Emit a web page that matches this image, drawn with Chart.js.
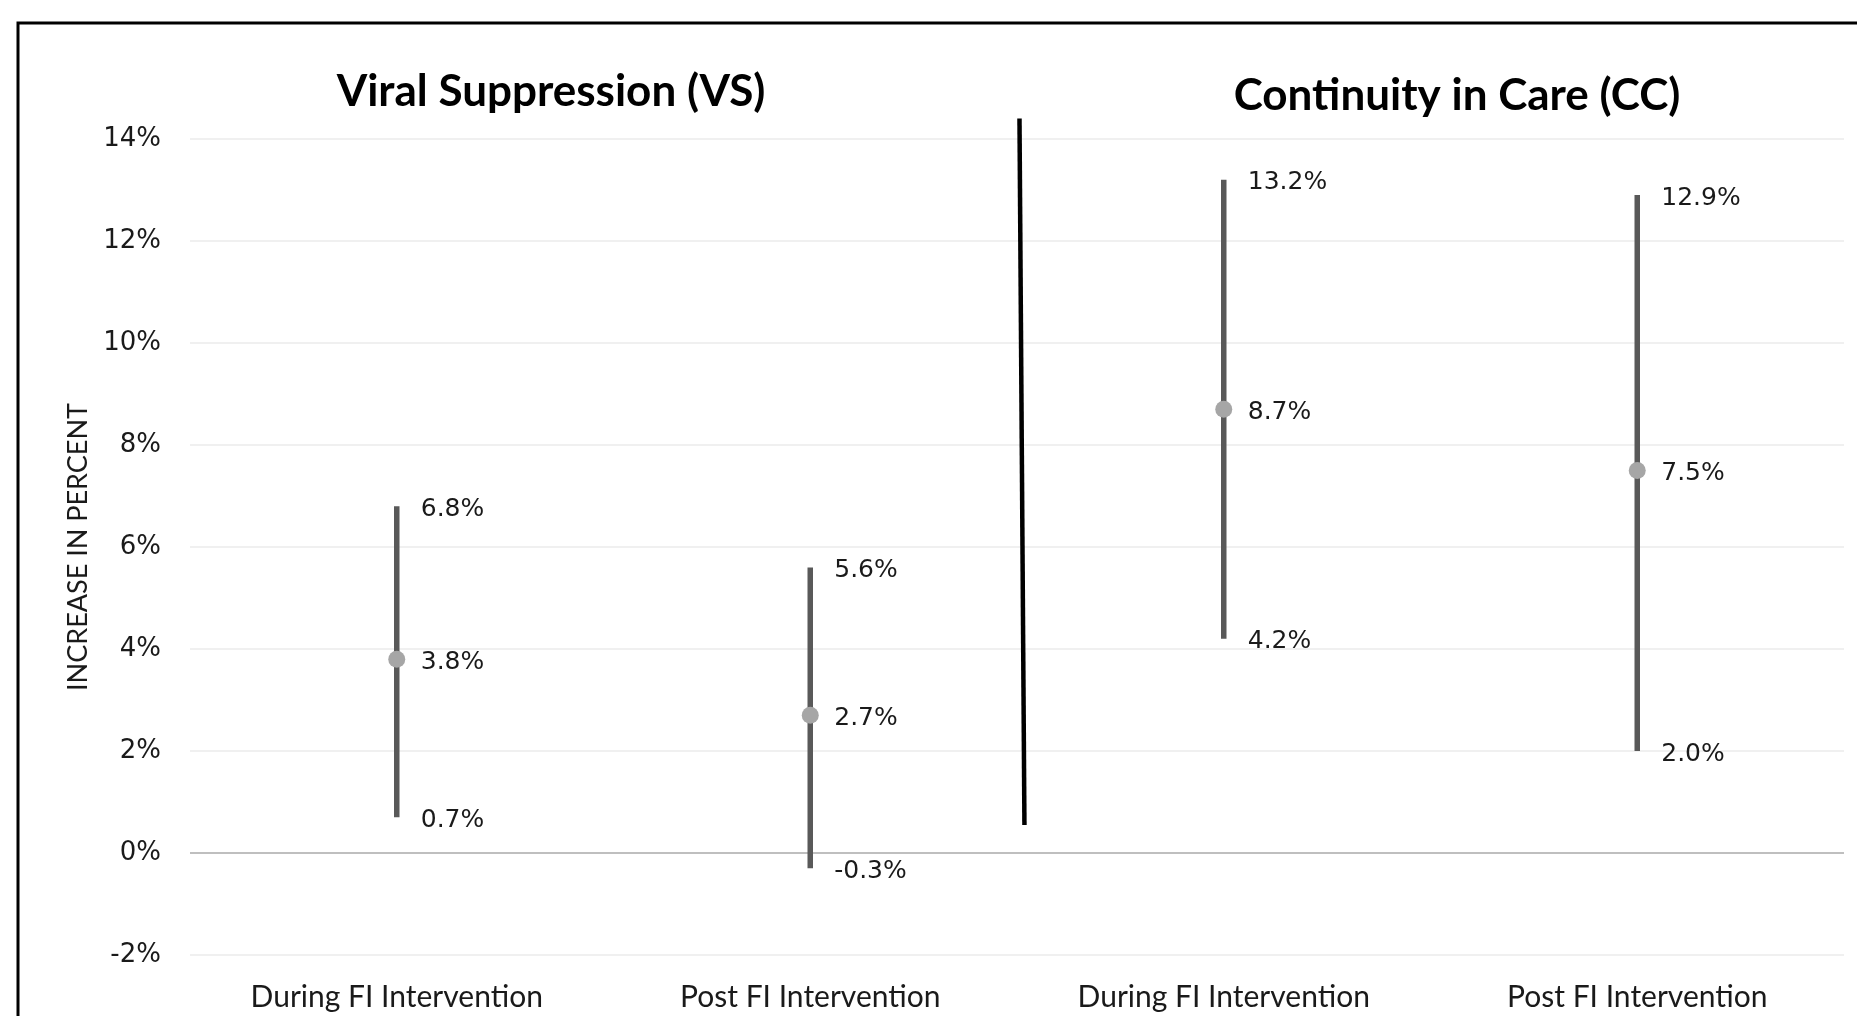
<!DOCTYPE html>
<html>
<head>
<meta charset="utf-8">
<script src="https://cdn.jsdelivr.net/npm/chart.js@4/dist/chart.umd.min.js"></script>
<style>
  html, body { margin: 0; padding: 0; background: #ffffff; }
  #wrap { width: 1857px; height: 1016px; position: relative; }
</style>
</head>
<body>
<div id="wrap"><canvas id="c" width="1857" height="1016"></canvas></div>
<script>
// ---- data ----
const categories = ['During FI Intervention', 'Post FI Intervention', 'During FI Intervention', 'Post FI Intervention'];
const estimate = [3.8, 2.7, 8.7, 7.5];
const lowerCI  = [0.7, -0.3, 4.2, 2.0];
const upperCI  = [6.8, 5.6, 13.2, 12.9];
const yTicks = [-2, 0, 2, 4, 6, 8, 10, 12, 14];
const panelTitles = ['Viral Suppression (VS)', 'Continuity in Care (CC)'];
const yAxisTitle = 'INCREASE IN PERCENT';
const dividerLine = [{x: 1.506, y: 14.4}, {x: 1.518, y: 0.55}];

const fmt = v => v.toFixed(1) + '%';

// build datasets
const datasets = [];
datasets.push({
  type: 'scatter',
  label: 'Estimate',
  data: estimate.map((v, i) => ({x: i, y: v})),
  pointRadius: 8.5,
  pointHoverRadius: 8.5,
  pointBackgroundColor: '#A6A6A6',
  pointBorderWidth: 0,
  showLine: false,
  order: 0
});
categories.forEach((c, i) => {
  datasets.push({
    type: 'line',
    label: 'CI ' + i,
    data: [{x: i, y: lowerCI[i]}, {x: i, y: upperCI[i]}],
    borderColor: '#595959',
    borderWidth: 5.5,
    borderCapStyle: 'butt',
    pointRadius: 0,
    fill: false,
    order: 1
  });
});
datasets.push({
  type: 'line',
  label: 'divider',
  data: dividerLine,
  borderColor: '#000000',
  borderWidth: 4.5,
  borderCapStyle: 'butt',
  pointRadius: 0,
  fill: false,
  clip: false,
  order: 2
});

const framePlugin = {
  id: 'frame',
  beforeDraw(chart) {
    const ctx = chart.ctx;
    ctx.save();
    ctx.fillStyle = '#ffffff';
    ctx.fillRect(0, 0, chart.width, chart.height);
    ctx.strokeStyle = '#000000';
    ctx.lineWidth = 3;
    ctx.strokeRect(18, 23, 2000, 2000);
    ctx.restore();
  }
};

const titlePlugin = {
  id: 'panelTitles',
  afterDraw(chart) {
    const ctx = chart.ctx;
    ctx.save();
    ctx.fillStyle = '#000000';
    ctx.font = 'bold 44px Lato';
    ctx.textAlign = 'center';
    ctx.textBaseline = 'middle';
    ctx.fillText(panelTitles[0], 551, 92);
    ctx.fillText(panelTitles[1], 1457, 96);
    ctx.restore();
  }
};

const labelPlugin = {
  id: 'ciLabels',
  afterDatasetsDraw(chart) {
    const ctx = chart.ctx;
    const xs = chart.scales.x, ys = chart.scales.y;
    ctx.save();
    ctx.fillStyle = '#1a1a1a';
    ctx.font = '25px "DejaVu Sans"';
    ctx.textAlign = 'left';
    ctx.textBaseline = 'middle';
    categories.forEach((c, i) => {
      const x = xs.getPixelForValue(i) + 24;
      [upperCI[i], estimate[i], lowerCI[i]].forEach(v => {
        ctx.fillText(fmt(v), x, ys.getPixelForValue(v) + 3);
      });
    });
    ctx.restore();
  }
};

new Chart(document.getElementById('c'), {
  data: { datasets },
  options: {
    responsive: false,
    animation: false,
    events: [],
    layout: { padding: { left: 0, right: 13, top: 139, bottom: 0 } },
    plugins: { legend: { display: false }, tooltip: { enabled: false } },
    scales: {
      x: {
        type: 'linear',
        min: -0.5,
        max: 3.5,
        afterBuildTicks: s => { s.ticks = categories.map((c, i) => ({value: i})); },
        afterFit: s => { s.height = 61; },
        grid: { display: false, drawTicks: false },
        border: { display: false },
        ticks: {
          padding: 24,
          color: '#1a1a1a',
          font: { family: 'Lato', size: 30 },
          callback: v => categories[v] ?? ''
        }
      },
      y: {
        type: 'linear',
        min: -2,
        max: 14,
        afterBuildTicks: s => { s.ticks = yTicks.map(v => ({value: v})); },
        afterFit: s => { s.width = 190; },
        grid: {
          drawTicks: false,
          lineWidth: 2,
          color: c => (c.tick && c.tick.value === 0) ? '#BFBFBF' : '#F0F0F0'
        },
        border: { display: false },
        ticks: {
          padding: 29,
          color: '#1a1a1a',
          font: { family: 'DejaVu Sans', size: 26 },
          callback: v => v + '%'
        },
        title: {
          display: true,
          text: yAxisTitle,
          color: '#1a1a1a',
          font: { family: 'Lato', size: 27 },
          padding: { top: 62, bottom: 0 }
        }
      }
    }
  },
  plugins: [framePlugin, titlePlugin, labelPlugin]
});
</script>
</body>
</html>
